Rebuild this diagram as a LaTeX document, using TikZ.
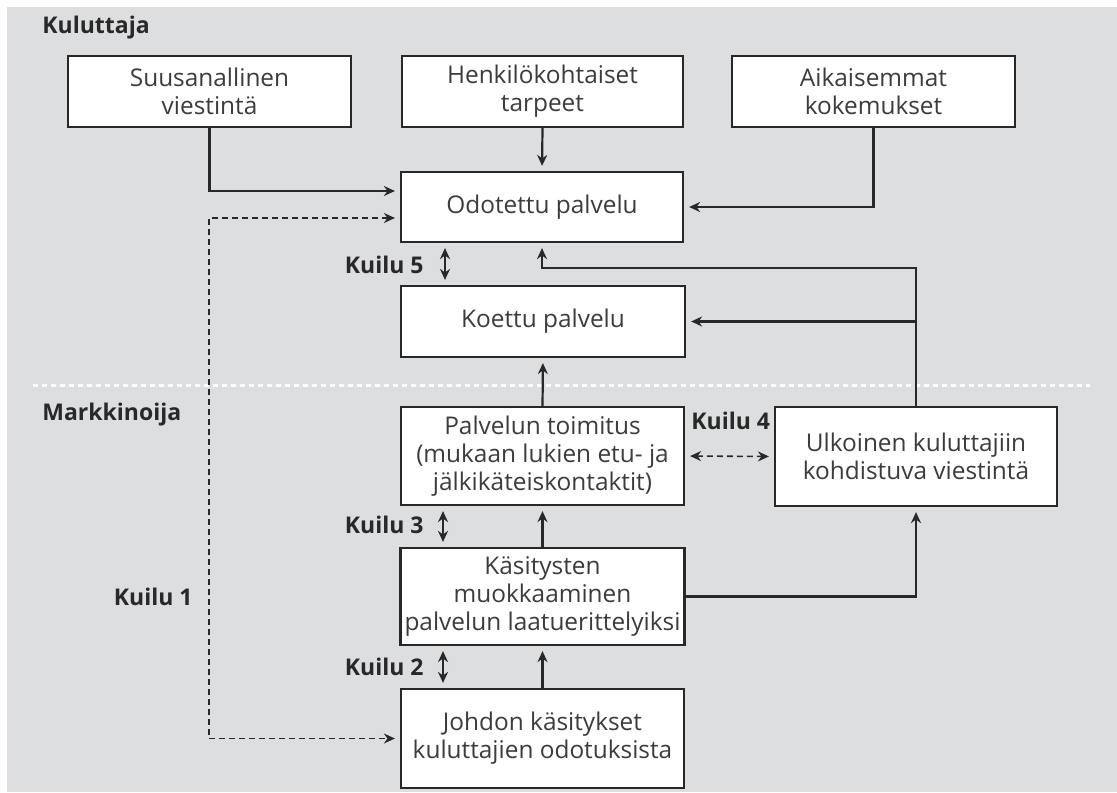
\documentclass[tikz,border=0pt]{standalone}
\usepackage{fontspec}
\setmainfont{Open Sans}
\usetikzlibrary{arrows.meta,calc}
\definecolor{panel}{RGB}{221,222,224}
\definecolor{ink}{RGB}{40,40,40}
\definecolor{txt}{RGB}{60,60,60}
\tikzset{
  box/.style={draw=ink, line width=1.1pt, fill=white, align=center, inner sep=2pt,
    font=\fontsize{12.2}{14}\selectfont, text=txt},
  ar/.style={draw=ink, line width=1.1pt, -{Stealth[length=5.5pt,width=5pt]}, shorten >=2.5pt},
  dar/.style={draw=ink, line width=0.8pt, dashed, dash pattern=on 3pt off 2pt,
    {Stealth[length=5.5pt,width=5pt]}-{Stealth[length=5.5pt,width=5pt]},
    shorten >=2.5pt, shorten <=2.5pt},
  gap/.style={draw=ink, line width=1.1pt,
    {Stealth[length=5.5pt,width=5pt]}-{Stealth[length=5.5pt,width=5pt]},
    shorten >=2.5pt, shorten <=2.5pt},
  lbl/.style={font=\bfseries\fontsize{11.5}{13}\selectfont, text=ink, inner sep=0pt},
}
\begin{document}
\begin{tikzpicture}[x=0.5pt,y=-0.5pt]
\useasboundingbox (0,0) rectangle (1117,792);
\fill[panel] (7,7) rectangle (1117,792);

% consumer side
\node[box, minimum width=141.5pt, minimum height=35.5pt] (suu) at (209.5,91.5) {Suusanallinen\\viestintä};
\node[box, minimum width=140.5pt, minimum height=35.5pt] (hen) at (542.5,91.5) {Henkilökohtaiset\\tarpeet};
\node[box, minimum width=141.5pt, minimum height=35.5pt] (aik) at (873.5,91.5) {Aikaisemmat\\kokemukset};
\node[box, minimum width=141pt, minimum height=35pt] (odo) at (542,207) {Odotettu palvelu};
\node[box, minimum width=142pt, minimum height=35.5pt] (koe) at (543,321.5) {Koettu palvelu};

% boundary between consumer and marketer
\draw[white, line width=1.5pt, dash pattern=on 2.5pt off 2pt] (33,385) -- (1090,385);

% marketer side
\node[box, minimum width=141.5pt, minimum height=49pt] (pal) at (542.5,456) {Palvelun toimitus\\(mukaan lukien etu- ja\\jälkikäteiskontaktit)};
\node[box, minimum width=141.5pt, minimum height=48.5pt] (kas) at (542.5,596.5) {Käsitysten\\muokkaaminen\\palvelun laatuerittelyiksi};
\node[box, minimum width=141.5pt, minimum height=49.5pt] (joh) at (542.5,738.5) {Johdon käsitykset\\kuluttajien odotuksista};
\node[box, minimum width=141pt, minimum height=49.5pt] (ulk) at (916,456.5) {Ulkoinen kuluttajiin\\kohdistuva viestintä};

% section and gap labels
\node[lbl, anchor=west] (tkul) at (42,28) {Kuluttaja};
\node[lbl, anchor=west] (tmar) at (42,415) {Markkinoija};
\node[lbl, anchor=east] (k1) at (193,597) {Kuilu 1};
\node[lbl, anchor=east] (k5) at (424,265) {Kuilu 5};
\node[lbl, anchor=east] (k3) at (424,525) {Kuilu 3};
\node[lbl, anchor=east] (k2) at (424,667) {Kuilu 2};
\node[lbl, anchor=west] (k4) at (691,421) {Kuilu 4};

% influences on expected service
\draw[ar] (suu.south) |- ([yshift=8pt]odo.west);
\draw[ar] (hen.south) -- (odo.north);
\draw[ar] (aik.south) |- (odo.east);
\draw[ar] (ulk.north) |- ([yshift=-12.5pt]odo.south) -- (odo.south);
\draw[ar] (ulk.north |- koe.east) -- (koe.east);

% service process chain
\draw[ar] (pal.north) -- (koe.south);
\draw[ar] (kas.north) -- (pal.south);
\draw[ar] (joh.north) -- (kas.south);
\draw[ar] (kas.east) -| (ulk.south);

% gaps
\draw[dar] ([yshift=-5.5pt]odo.west) -- ++(-191,0) |- (joh.west);
\draw[dar] (pal.east) -- (ulk.west);
\draw[gap] ([xshift=-48.5pt]odo.south) -- ([xshift=-48.5pt]odo.south |- koe.north);
\draw[gap] ([xshift=-49.75pt]pal.south) -- ([xshift=-49.75pt]pal.south |- kas.north);
\draw[gap] ([xshift=-49.75pt]kas.south) -- ([xshift=-49.75pt]kas.south |- joh.north);
\end{tikzpicture}
\end{document}
